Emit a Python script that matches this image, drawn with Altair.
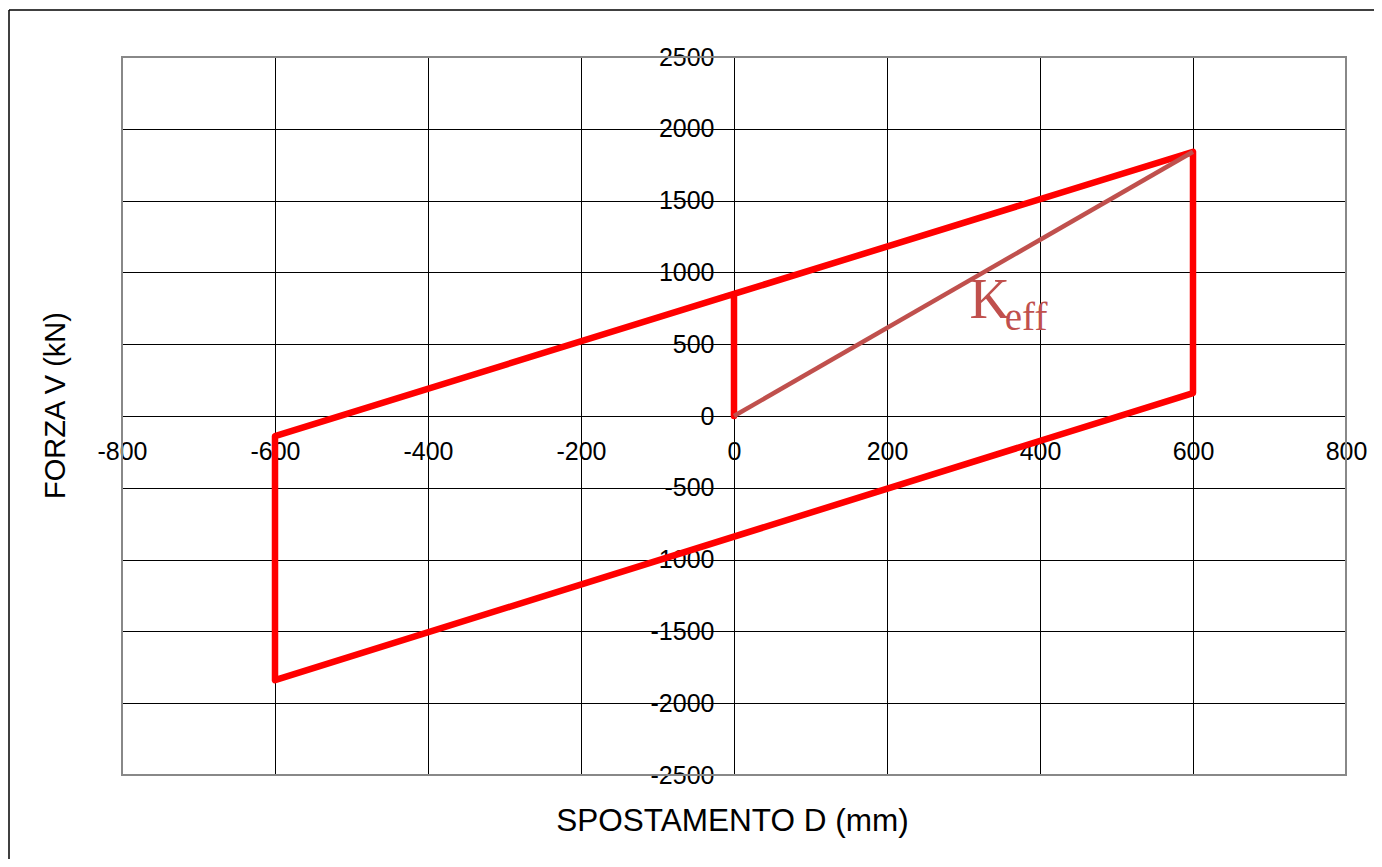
import altair as alt
import pandas as pd

# Hysteresis loop (displacement mm, force kN)
loop_x = [0, 0, 600, 600, -600, -600, 0]
loop_y = [0, 850, 1840, 160, -1840, -140, 850]
# Effective stiffness secant
keff_x = [0, 600]
keff_y = [0, 1840]
# Axis ticks
x_ticks = [-800, -600, -400, -200, 0, 200, 400, 600, 800]
y_ticks = [-2500, -2000, -1500, -1000, -500, 0, 500, 1000, 1500, 2000, 2500]
# Annotation "K_eff"
label_text = ["K", "eff"]
label_x = [308, 354]
label_y = [680, 596]

W, H = 1224, 718
FONT = "Liberation Sans"

loop_df = pd.DataFrame({"x": loop_x, "y": loop_y, "i": list(range(len(loop_x)))})
keff_df = pd.DataFrame({"x": keff_x, "y": keff_y})
k_df = pd.DataFrame({"x": [label_x[0]], "y": [label_y[0]], "t": [label_text[0]]})
eff_df = pd.DataFrame({"x": [label_x[1]], "y": [label_y[1]], "t": [label_text[1]]})
one = pd.DataFrame({"v": [0]})

x_axis = alt.Axis(
    values=x_ticks, grid=True, gridColor="#000", gridWidth=1,
    ticks=False, domain=True, domainColor="#000", domainWidth=1,
    offset=-359, labelPadding=23, labelFont=FONT, labelFontSize=25,
    labelColor="#000", labelFlush=False, labelOverlap=False,
    labelExpr="'' + datum.value",
    title="SPOSTAMENTO D (mm)", titleFont=FONT, titleFontSize=31.5,
    titleFontWeight="normal", titleColor="#000", titleX=610, titleY=414,
    titleBaseline="alphabetic", titleAlign="center",
)
y_axis = alt.Axis(
    values=y_ticks, grid=True, gridColor="#000", gridWidth=1,
    ticks=True, tickSize=7, tickColor="#000", domain=True, domainColor="#000",
    domainWidth=1, offset=-612, labelPadding=13, labelFont=FONT,
    labelFontSize=25, labelColor="#000", labelFlush=False, labelOverlap=False,
    labelExpr="'' + datum.value",
    title="FORZA V (kN)", titleFont=FONT, titleFontSize=29,
    titleFontWeight="normal", titleColor="#000", titleX=-670, titleY=348,
    titleBaseline="alphabetic", titleAlign="center", titleAngle=270,
)

xs = alt.Scale(domain=[-800, 800], nice=False, zero=False)
ys = alt.Scale(domain=[-2500, 2500], nice=False, zero=False)

x_enc = alt.X("x:Q", scale=xs, axis=x_axis)
y_enc = alt.Y("y:Q", scale=ys, axis=y_axis)

outer_left = alt.Chart(one).mark_rule(color="#000", strokeWidth=1.5).encode(
    x=alt.value(-113), y=alt.value(-47), y2=alt.value(H + 300)
)
outer_top = alt.Chart(one).mark_rule(color="#000", strokeWidth=1.5).encode(
    x=alt.value(-113), x2=alt.value(W + 300), y=alt.value(-47)
)
frame = alt.Chart(one).mark_rect(fill="transparent", stroke="#888888", strokeWidth=2).encode(
    x=alt.value(0), x2=alt.value(W), y=alt.value(0), y2=alt.value(H)
)

loop = alt.Chart(loop_df).mark_line(
    color="#FF0000", strokeWidth=6.5, strokeJoin="round", strokeCap="round"
).encode(x=x_enc, y=y_enc, order=alt.Order("i:Q"))

keff = alt.Chart(keff_df).mark_line(color="#C0504D", strokeWidth=4.5).encode(x=x_enc, y=y_enc)

k_text = alt.Chart(k_df).mark_text(
    font="Liberation Serif", fontSize=56, color="#C0504D", align="left", baseline="alphabetic"
).encode(x=x_enc, y=y_enc, text="t:N")
eff_text = alt.Chart(eff_df).mark_text(
    font="Liberation Serif", fontSize=39, color="#C0504D", align="left", baseline="alphabetic"
).encode(x=x_enc, y=y_enc, text="t:N")

chart = alt.layer(outer_left, outer_top, frame, loop, keff, k_text, eff_text).properties(
    width=W, height=H,
    padding={"left": 114, "top": 49, "right": 28, "bottom": 84},
    autosize=alt.AutoSizeParams(type="none"),
    background="white",
).configure_view(stroke="transparent")

chart.save("out.html", embed_options={"renderer": "svg", "actions": False})
